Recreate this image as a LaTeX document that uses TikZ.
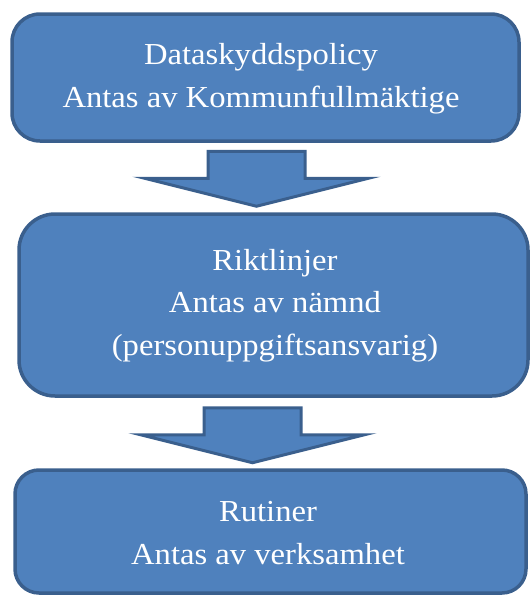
\documentclass[tikz,border=0pt]{standalone}
\usepackage{fontspec}
\setmainfont{Liberation Serif}[FakeStretch=1.07]
\usetikzlibrary{calc}
\definecolor{boxfill}{HTML}{4F81BD}
\definecolor{boxline}{HTML}{3A5F8D}
\tikzset{
  box/.style={draw=boxline, fill=boxfill, line width=3.5pt, inner sep=0pt},
  boxtext/.style={text=white, align=center, inner sep=0pt, font=\fontsize{30.5}{42.5}\selectfont},
  blockarrow/.style={draw=boxline, fill=boxfill, line width=3pt, line join=miter}
}
\begin{document}
\begin{tikzpicture}[x=1pt,y=-1pt]
\useasboundingbox (0,0) rectangle (530,595);
% boxes
\node[box, rounded corners=28pt, minimum width=507pt, minimum height=127pt] (b1) at (265.5,77.5) {};
\node[box, rounded corners=36pt, minimum width=509pt, minimum height=182pt] (b2) at (273.5,305) {};
\node[box, rounded corners=24pt, minimum width=511pt, minimum height=123pt] (b3) at (270.5,531.5) {};
% texts (base anchor = baseline of last line)
\node[boxtext, anchor=base] (t1) at (261,107) {Dataskyddspolicy\\Antas av Kommunfullmäktige};
\node[boxtext, anchor=base] (t2) at (275,355) {Riktlinjer\\Antas av nämnd\\(personuppgiftsansvarig)};
\node[boxtext, anchor=base] (t3) at (268,564) {Rutiner\\Antas av verksamhet};
% block arrows (connectors)
\coordinate (a1) at ($(b1.south)+(-9,8.5)$);
\coordinate (a2) at ($(b2.south)+(-21,10)$);
\foreach \a in {a1,a2}{
  \draw[blockarrow] ($(\a)+(-48.5,0)$) -- ($(\a)+(48.5,0)$) -- ($(\a)+(48.5,27)$)
    -- ($(\a)+(112,27)$) -- ($(\a)+(0,55)$) -- ($(\a)+(-112,27)$)
    -- ($(\a)+(-48.5,27)$) -- cycle;
}
\end{tikzpicture}
\end{document}
